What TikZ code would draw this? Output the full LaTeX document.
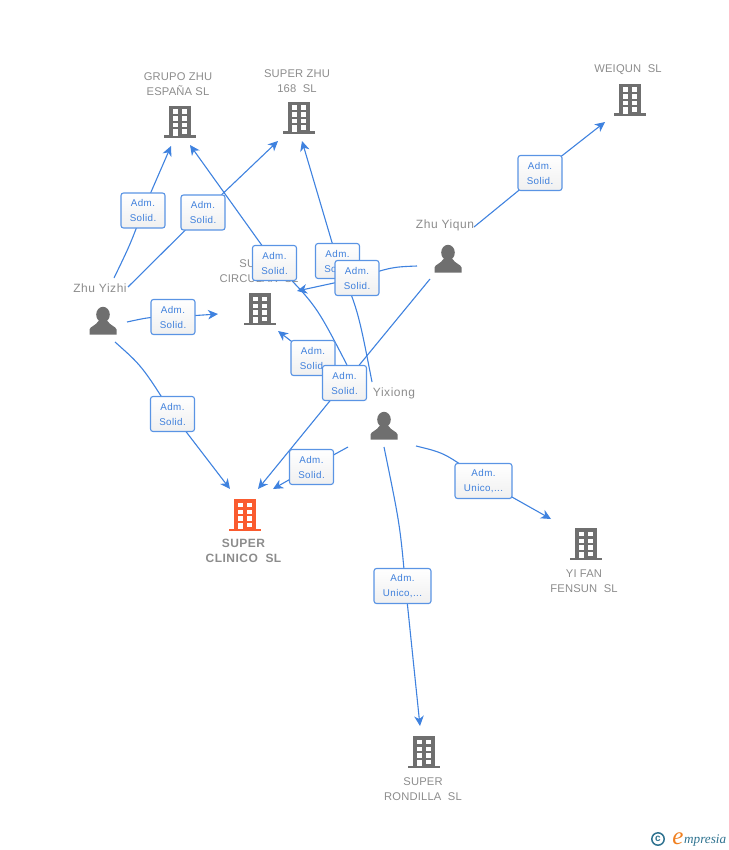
\documentclass[tikz,border=0pt]{standalone}
\usepackage{fontspec}
\setmainfont{Liberation Sans}
\newfontfamily\logofont{Liberation Serif}
\newfontfamily\spacedfont[LetterSpace=4.5]{Liberation Sans}
\newfontfamily\boxfont[LetterSpace=4]{Liberation Sans}
\newfontfamily\namefont[LetterSpace=1.5]{Liberation Sans}
\newfontfamily\boldnamefont[LetterSpace=4,BoldFont={Liberation Sans Bold}]{Liberation Sans}
\usetikzlibrary{arrows.meta,backgrounds}
\definecolor{linkblue}{HTML}{3F82DF}
\definecolor{boxblue}{HTML}{5A94E4}
\definecolor{labelblue}{HTML}{3F80DC}
\definecolor{namegray}{HTML}{8C8C8C}
\definecolor{icongray}{HTML}{6F6F6F}
\definecolor{iconorange}{HTML}{FA5B2F}
\definecolor{logoteal}{HTML}{2F7390}
\definecolor{logoorange}{HTML}{F08020}
\newcommand{\admline}{Adm.\hspace{3.5pt}}
\newcommand{\solidline}{Solid.\hspace{1pt}}
\tikzset{
  x=1pt,y=-1pt,
  link/.style={draw=linkblue,line width=1.1pt},
  arrowlink/.style={link,-{Stealth[length=10pt,width=9.5pt,inset=3pt]}},
  relbox/.style={draw=boxblue,line width=1.1pt,rounded corners=2.5pt,top color=white,bottom color=white!94!black,
    text=labelblue,font=\boxfont\fontsize{9.8}{15}\selectfont,align=center,minimum height=35pt,inner sep=0pt,minimum width=44pt},
  widebox/.style={relbox,minimum width=57pt},
  namelabel/.style={text=namegray,font=\namefont\fontsize{11.2}{15}\selectfont,align=center,inner sep=0pt},
  boldlabel/.style={namelabel,font=\boldnamefont\fontsize{12}{15.5}\selectfont\bfseries},
  personlabel/.style={text=namegray,font=\spacedfont\fontsize{12}{14}\selectfont,inner sep=0pt},
  pics/building/.style={code={
    \fill[#1] (-11,0) rectangle (11,30);
    \fill[#1] (-16,29.5) rectangle (16,32);
    \foreach \r in {3.5,10.5,17}{
      \fill[white] (-7.5,\r) rectangle (-2.5,\r+4.5);
      \fill[white] (2,\r) rectangle (7,\r+4.5);}
    \fill[white] (2,23.5) rectangle (7,28);
    \fill[white] (-7.5,23.5) rectangle (-2.5,30);
  }},
  pics/person/.style={code={
    \fill[icongray] (0,7.6) ellipse (6.8 and 7.8);
    \fill[icongray] (-13.5,27.5) -- (-13.5,22.5) .. controls (-13,19.5) and (-7,18.5) .. (-4.5,14)
      -- (4.5,14) .. controls (7,18.5) and (13,19.5) .. (13.5,22.5) -- (13.5,27.5) -- cycle;
  }}
}
\begin{document}
\begin{tikzpicture}
\useasboundingbox (0,0) rectangle (728,850);
% companies
\pic at (180,106) {building=icongray};
\pic at (299,102) {building=icongray};
\pic at (630,84) {building=icongray};
\pic at (260,293) {building=icongray};
\pic at (245,499) {building=iconorange};
\pic at (586,528) {building=icongray};
\pic at (424,736) {building=icongray};
\node[namelabel] (grupo) at (178,84) {GRUPO ZHU\\ESPAÑA SL};
\node[namelabel] (zhu168) at (297,81) {SUPER ZHU\\168\ \ SL};
\node[namelabel] (weiqun) at (628,70) {WEIQUN\ \ SL};
\node[namelabel] (circular) at (259,271) {SUPER\\CIRCULAR\ \ SL};
\node[boldlabel] (clinico) at (243.5,551) {SUPER\\CLINICO\ \ SL};
\node[namelabel] (yifan) at (584,581) {YI FAN\\FENSUN\ \ SL};
\node[namelabel] (rondilla) at (423,789) {SUPER\\RONDILLA\ \ SL};
% people
\pic at (103,307) {person};
\pic at (384,412) {person};
\pic at (448,245) {person};
\node[personlabel] (yizhi) at (100,288) {Zhu Yizhi};
\node[personlabel] (yixiong) at (394,393) {Yixiong};
\node[personlabel] (yiqun) at (445,225) {Zhu Yiqun};
% connector ends
\coordinate (s1) at (114,278); \coordinate (e1) at (171,146);
\coordinate (s2) at (128,287); \coordinate (e2) at (278,141);
\coordinate (s3) at (127,322); \coordinate (e3) at (218,314);
\coordinate (s4) at (115,342); \coordinate (e4) at (230,489);
\coordinate (s5) at (347,365); \coordinate (e5) at (190,145);
\coordinate (s6) at (372,382); \coordinate (e6) at (302,141);
\coordinate (s7) at (417,266); \coordinate (e7) at (297,291);
\coordinate (s8) at (430,279); \coordinate (e8) at (258,489);
\coordinate (e9) at (278,331);
\coordinate (s10) at (348,447); \coordinate (e10) at (273,489);
\coordinate (s11) at (416,446); \coordinate (e11) at (551,519);
\coordinate (s12) at (384,447); \coordinate (e12) at (420,726);
\coordinate (s13) at (474,227); \coordinate (e13) at (605,122);
% relation boxes
\node[relbox] (l1) at (143,210.5) {\admline\\\solidline};
\node[relbox] (l2) at (203,212.5) {\admline\\\solidline};
\node[relbox] (l3) at (173,317) {\admline\\\solidline};
\node[relbox] (l4) at (172.5,414) {\admline\\\solidline};
\node[relbox] (l6) at (337.5,261) {\admline\\\solidline};
\node[relbox] (l5) at (274.5,263) {\admline\\\solidline};
\node[relbox] (l7) at (357,278) {\admline\\\solidline};
\node[relbox] (l9) at (313,358) {\admline\\\solidline};
\node[relbox] (l8) at (344.5,383) {\admline\\\solidline};
\node[relbox] (l10) at (311.5,467) {\admline\\\solidline};
\node[widebox] (l11) at (483.5,481) {\admline\\Unico,...};
\node[widebox] (l12) at (402.5,586) {\admline\\Unico,...};
\node[relbox] (l13) at (540,173) {\admline\\\solidline};
% connectors
\begin{pgfonlayer}{background}
\draw[link] (s1) .. controls (130,245) .. (l1.center);
\draw[arrowlink] (l1.center) -- (e1);
\draw[link] (s2) -- (l2.center);
\draw[arrowlink] (l2.center) -- (e2);
\draw[link] (s3) .. controls (150,317) .. (l3.center);
\draw[arrowlink] (l3.center) -- (e3);
\draw[link] (s4) .. controls (142,366) .. (l4.center);
\draw[arrowlink] (l4.center) -- (e4);
\draw[link] (s5) .. controls (316,305) .. (l5.center);
\draw[arrowlink] (l5.center) -- (e5);
\draw[link] (s6) .. controls (358,310) .. (l6.center);
\draw[arrowlink] (l6.center) -- (e6);
\draw[link] (s7) .. controls (392,267) .. (l7.center);
\draw[arrowlink] (l7.center) -- (e7);
\draw[link] (s8) -- (l8.center);
\draw[arrowlink] (l8.center) -- (e8);
\draw[link] (l8.center) -- (l9.center);
\draw[arrowlink] (l9.center) -- (e9);
\draw[link] (s10) -- (l10.center);
\draw[arrowlink] (l10.center) -- (e10);
\draw[link] (s11) .. controls (445,453) .. (l11.center);
\draw[arrowlink] (l11.center) -- (e11);
\draw[link] (s12) .. controls (400,525) .. ([xshift=3pt]l12.center);
\draw[arrowlink] ([xshift=3pt]l12.center) -- (e12);
\draw[link] (s13) -- (l13.center);
\draw[arrowlink] (l13.center) -- (e13);
\end{pgfonlayer}
% logo
\draw[logoteal,line width=1.5pt] (658,839) circle (6.2);
\node[text=logoteal,font=\fontsize{10}{10}\selectfont\bfseries,inner sep=0pt] (copyc) at (658,838.6) {c};
\node[text=logoorange,font=\logofont\itshape\fontsize{25}{25}\selectfont,inner sep=0pt,anchor=base] (logoe) at (678,844) {e};
\node[text=logoteal,font=\logofont\itshape\fontsize{13.2}{13.2}\selectfont,inner sep=0pt,anchor=base west] (logotxt) at (684,843) {mpresia};
\end{tikzpicture}
\end{document}
